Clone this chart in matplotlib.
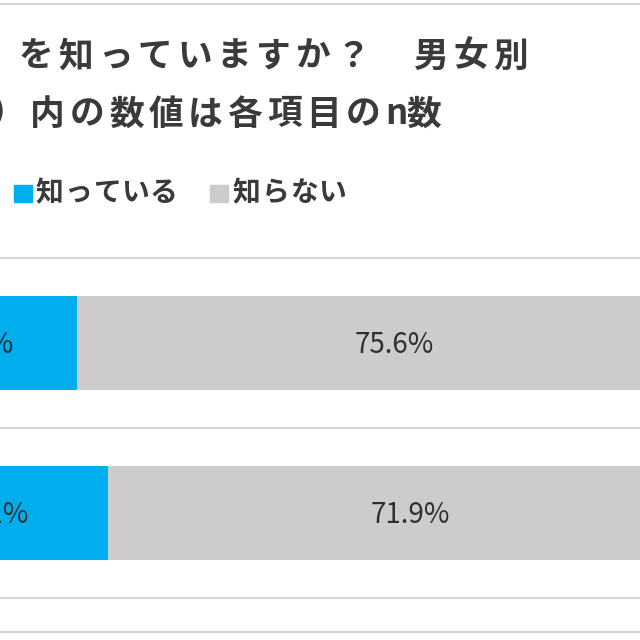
import matplotlib.pyplot as plt
from matplotlib.lines import Line2D

plt.rcParams['font.family'] = ['Noto Sans CJK JP', 'DejaVu Sans']

# data (crop of a larger chart: left/right edges are cut off)
groups = ['男性', '女性']
known = [24.4, 28.1]
unknown = [75.6, 71.9]
series_names = ['知っている', '知らない']
series_colors = ['#00AEEF', '#CDCBCC']
title_line1 = '」を知っていますか？　男女別'
title_line2 = '）内の数値は各項目のn数'

text_color = '#3A3A3A'
line_color = '#D6D6D6'
W = H = 640

fig = plt.figure(figsize=(6.4, 6.4), dpi=100)


def px(x, y):
    return x / W, 1 - y / H


def spaced_text(s, x0, y, adv_full, adv_half, size, weight='bold', color=text_color):
    x = x0
    for ch in s:
        fx, fy = px(x, y)
        fig.text(fx, fy, ch, ha='left', va='center', fontsize=size,
                 color=color, fontweight=weight)
        x += adv_half if ord(ch) < 128 else adv_full


# title lines (left part of the title is outside the crop)
spaced_text(title_line1[0], -17, 56, 39.5, 20, 25)
spaced_text(title_line1[1:], 19, 56, 39.5, 20, 25)
spaced_text(title_line2, 30 - 39.5, 114, 39.5, 21, 25)

# legend
fig.patches.append(plt.Rectangle(px(14, 202), 18 / W, 17 / H, color=series_colors[0],
                                 transform=fig.transFigure))
spaced_text(series_names[0], 36, 193, 28.5, 14, 20)
fig.patches.append(plt.Rectangle(px(210, 202), 18 / W, 17 / H, color=series_colors[1],
                                 transform=fig.transFigure))
spaced_text(series_names[1], 233, 193, 28.5, 14, 20)

# frame lines
for yy in [4, 632]:
    fx, fy = px(0, yy)
    fig.add_artist(Line2D([0, 1], [fy, fy], color=line_color, lw=1.6,
                          transform=fig.transFigure))

# bars
ax = fig.add_axes([-128 / W, (H - 598) / H, 840 / W, 340 / H])
y = list(range(len(groups)))
ax.barh(y, known, height=0.553, color=series_colors[0])
ax.barh(y, unknown, left=known, height=0.553, color=series_colors[1])
ax.set_xlim(0, 100)
ax.set_ylim(1.5, -0.5)
ax.axis('off')
for yy in [-0.5, 0.5, 1.5]:
    ax.axhline(yy, color=line_color, lw=1.6, clip_on=False)

for i in y:
    ax.text(known[i] / 2, i + 0.01, f'{known[i]:.1f}%', ha='center', va='center',
            fontsize=20, color='#303030')
    ax.text(known[i] + unknown[i] / 2, i + 0.01, f'{unknown[i]:.1f}%', ha='center',
            va='center', fontsize=20, color='#303030')

fig.savefig('out.png', dpi=100)
